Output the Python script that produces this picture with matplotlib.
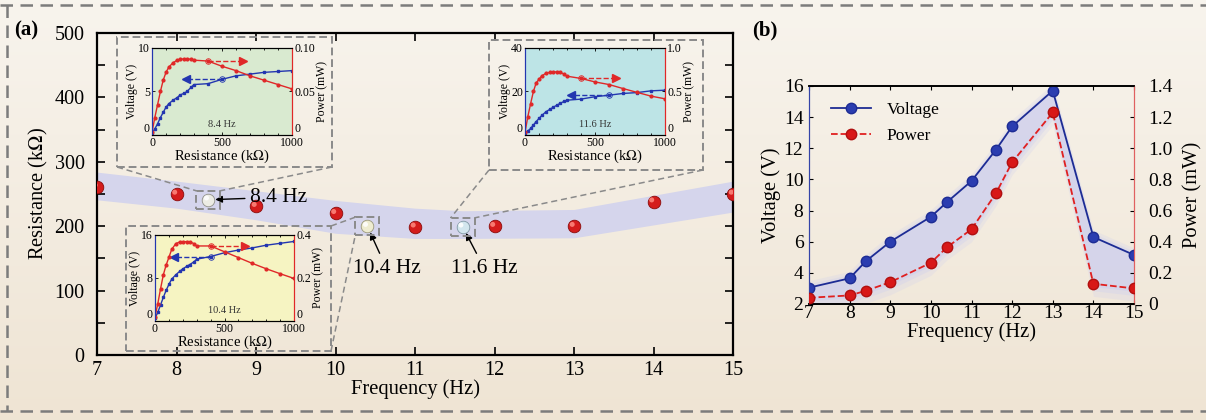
import numpy as np
import matplotlib.pyplot as plt
import matplotlib.transforms as mtransforms
from matplotlib.patches import Rectangle
from matplotlib.lines import Line2D

plt.rcParams['font.family'] = ['Liberation Serif', 'DejaVu Serif']
plt.rcParams['mathtext.fontset'] = 'stix'

W, H = 1206, 420

# ---- panel (a): optimal load resistance vs frequency
freq_a = [7, 8, 8.4, 9, 10, 10.4, 11, 11.6, 12, 13, 14, 15]
res_a = [261, 250, 241, 231, 220, 200, 199, 199, 200, 200, 238, 250]
band_f = [7, 8, 9, 10, 11, 11.6, 13, 15]
band_hi = [284, 270, 255, 240, 228, 224, 226, 270]
band_lo = [241, 228, 210, 189, 181, 181, 182, 222]
marked = {8.4: ("8.4 Hz", "#ecece4", "#909088"),
          10.4: ("10.4 Hz", "#eeecd0", "#9a987a"),
          11.6: ("11.6 Hz", "#d2e6ee", "#8098a4")}

# ---- panel (b): voltage / power vs frequency
freq_b = [7, 8, 8.4, 9, 10, 10.4, 11, 11.6, 12, 13, 14, 15]
volt_b = [3.05, 3.65, 4.75, 6.0, 7.6, 8.55, 9.9, 11.9, 13.4, 15.7, 6.3, 5.15]
power_b = [0.04, 0.055, 0.085, 0.14, 0.265, 0.365, 0.48, 0.71, 0.91, 1.23, 0.13, 0.10]

# ---- inset curves (resistance in kOhm)
r_in = [0, 20, 40, 60, 80, 100, 120, 150, 180, 200, 230, 250, 280, 300,
        400, 500, 600, 700, 800, 900, 1000]
v84 = [0.2, 0.7, 1.3, 2.0, 2.6, 3.2, 3.6, 4.0, 4.3, 4.6, 4.8, 5.0, 5.5, 5.8,
       5.9, 6.4, 6.8, 7.0, 7.2, 7.3, 7.4]
p84 = [0.003, 0.02, 0.035, 0.05, 0.063, 0.072, 0.078, 0.083, 0.086, 0.087, 0.0875,
       0.0875, 0.087, 0.086, 0.085, 0.079, 0.074, 0.068, 0.063, 0.058, 0.053]
v104 = [0.5, 1.6, 3.0, 4.4, 5.7, 6.8, 7.8, 8.6, 9.3, 9.7, 10.2, 10.5, 11.0, 11.5,
        12.0, 12.7, 13.2, 13.6, 14.1, 14.45, 14.8]
p104 = [0.02, 0.08, 0.15, 0.215, 0.26, 0.296, 0.333, 0.36, 0.368, 0.369, 0.369,
        0.368, 0.36, 0.349, 0.349, 0.322, 0.295, 0.268, 0.243, 0.22, 0.198]
v116 = [0.8, 1.8, 3.0, 4.6, 6.2, 7.6, 9.0, 10.7, 11.9, 12.7, 13.8, 14.5, 15.5, 16.0,
        16.5, 17.6, 18.3, 19.1, 19.5, 20.3, 20.6]
p116 = [0.03, 0.21, 0.36, 0.5, 0.6, 0.64, 0.68, 0.71, 0.72, 0.725, 0.725, 0.72,
        0.7, 0.676, 0.65, 0.61, 0.58, 0.534, 0.49, 0.447, 0.416]


def fr(x0, y0, x1, y1):
    return [x0 / W, 1 - y1 / H, (x1 - x0) / W, (y1 - y0) / H]


def fpt(x, y):
    return x / W, 1 - y / H


fig = plt.figure(figsize=(W / 100, H / 100), dpi=100)

# background gradient
bg = fig.add_axes([0, 0, 1, 1], zorder=-10)
t = np.linspace(0, 1, 256)[:, None, None]
top = np.array([0.972, 0.957, 0.930])
bot = np.array([0.937, 0.895, 0.830])
bg.imshow(np.repeat(top * (1 - t) + bot * t, 4, axis=1), aspect='auto', extent=[0, 1, 0, 1])
bg.axis('off')

dash = dict(color='#7c7c7c', lw=1.8, ls=(0, (5, 3)), transform=fig.transFigure)
fig.add_artist(Line2D([0, 1], [1 - 5 / H] * 2, **dash))
fig.add_artist(Line2D([0, 1], [1 - 411 / H] * 2, **dash))
fig.add_artist(Line2D([7 / W] * 2, [1 - 5 / H, 1 - 411 / H], **dash))


def balls(ax, xs, ys, face, edge, hl, s=82):
    ax.scatter(xs, ys, s=s, c=face, edgecolors=edge, linewidths=0.6, zorder=5)
    off = mtransforms.offset_copy(ax.transData, fig=fig, x=-1.3, y=1.3, units='points')
    ax.scatter(xs, ys, s=s * 0.16, c=hl, edgecolors='none', transform=off, zorder=6, alpha=0.85)


# ---------------- panel (a)
ax = fig.add_axes(fr(97, 33, 733, 355))
ax.set_facecolor('none')
ax.fill_between(band_f, band_lo, band_hi, color='#d5d5ec', lw=0, zorder=1)
red_f = [f for f in freq_a if f not in marked]
red_r = [r for f, r in zip(freq_a, res_a) if f not in marked]
balls(ax, red_f, red_r, '#d41c1c', '#8a0c0c', '#ff8a80')
for f, r in zip(freq_a, res_a):
    if f in marked:
        balls(ax, [f], [r], marked[f][1], marked[f][2], 'white')
ax.set_xlim(7, 15)
ax.set_ylim(0, 500)
ax.set_xticks(range(7, 16))
ax.set_yticks(range(0, 501, 100))
ax.set_yticks(range(50, 500, 100), minor=True)
ax.tick_params(which='both', direction='in', top=True, right=True, length=6, width=1.2,
               labelsize=14.5)
ax.tick_params(axis='x', pad=4)
ax.tick_params(axis='y', pad=9)
for s in ax.spines.values():
    s.set_linewidth(1.6)
ax.set_xlabel('Frequency (Hz)', fontsize=14.8, labelpad=0)
ax.set_ylabel('Resistance (k$\\Omega$)', fontsize=14.8, labelpad=3)

ann = {8.4: ((8.93, 245), 'left'), 10.4: ((10.64, 135), 'center'), 11.6: ((11.87, 135), 'center')}
for f, r in zip(freq_a, res_a):
    if f in marked:
        xyt, ha = ann[f]
        ax.annotate(marked[f][0], xy=(f, r), xytext=xyt, ha=ha, va='center', fontsize=15.5,
                    arrowprops=dict(arrowstyle='-|>', color='black', lw=1.0,
                                    mutation_scale=10, shrinkA=2, shrinkB=5), zorder=7)

# ---------------- panel (b)
axb = fig.add_axes(fr(809, 86, 1134, 304))
axb.set_facecolor('none')
vb = np.array(volt_b)
pb = 2 + 10 * np.array(power_b)
for k, a in zip([0.9, 0.5, 0.2], [0.25, 0.35, 0.6]):
    axb.fill_between(freq_b, vb + 0.5 * k, np.maximum(pb - 0.9 * k, 2.0), color='#cfd0ee',
                     alpha=a, lw=0)
lv, = axb.plot(freq_b, volt_b, '-o', color='#1d2c94', mfc='#2b3db0', mec='#1d2c94',
               ms=7.5, lw=1.3, zorder=4)
axb.set_xlim(7, 15)
axb.set_ylim(2, 16)
axb.set_xticks(range(7, 16))
axb.set_yticks(range(2, 17, 2))
axp = axb.twinx()
lp, = axp.plot(freq_b, power_b, '--o', color='#e02020', mfc='#d81818', mec='#b01010',
               ms=7.5, lw=1.3, zorder=4)
axp.set_ylim(0, 1.4)
axp.set_yticks(np.arange(0, 1.41, 0.2))
axp.set_yticklabels(['0'] + [f'{v:.1f}' for v in np.arange(0.2, 1.41, 0.2)])
axb.tick_params(direction='in', labelsize=14, length=3, top=True)
axb.tick_params(axis='x', pad=1)
axb.tick_params(axis='y', pad=4)
axp.tick_params(direction='in', labelsize=14, length=3, pad=10)
for a in (axb, axp):
    a.spines['left'].set_color('#3444a8')
    a.spines['right'].set_color('#e06060')
    a.spines['left'].set_linewidth(0.8)
    a.spines['right'].set_linewidth(0.8)
    a.spines['top'].set_linewidth(1.2)
    a.spines['bottom'].set_linewidth(1.2)
axb.set_xlabel('Frequency (Hz)', fontsize=14.8, labelpad=0)
axb.set_ylabel('Voltage (V)', fontsize=14.8, labelpad=2)
axp.set_ylabel('Power (mW)', fontsize=14.8, labelpad=8)
axb.legend([lv, lp], ['Voltage', 'Power'], loc='upper left', frameon=False, fontsize=12.5,
           handlelength=2.3, handletextpad=0.9, borderaxespad=0.5, labelspacing=0.6,
           bbox_to_anchor=(0.02, 1.0))

fig.text(14 / W, 1 - 30 / H, '(a)', fontsize=15, fontweight='bold', va='center')
fig.text(752 / W, 1 - 30 / H, '(b)', fontsize=15, fontweight='bold', va='center')


# ---------------- insets
def inset(rect, v, p, vmax, pmax, vticks, pticks, plabels, face, tag, red_ar, blue_ar):
    ai = fig.add_axes(rect)
    ai.set_facecolor(face)
    ai.plot(r_in, v, '-s', color='#2336b0', ms=2.0, lw=1.0)
    yb = np.interp(blue_ar[0], r_in, v)
    ai.plot(blue_ar, [yb, yb], '--', color='#2336b0', lw=1.0)
    ai.plot([blue_ar[0]], [yb], 'o', mfc='none', mec='#2336b0', ms=4, mew=0.6)
    ai.plot([blue_ar[1]], [yb], '<', color='#2336b0', ms=6)
    ai.set_xlim(0, 1000)
    ai.set_ylim(0, vmax)
    ai.set_xticks([0, 500, 1000])
    ai.set_xticks(range(100, 1000, 100), minor=True)
    ai.set_yticks(vticks)
    ai2 = ai.twinx()
    ai2.plot(r_in, p, '-o', color='#e02828', ms=2.0, lw=1.0)
    yr = np.interp(red_ar[0], r_in, p)
    ai2.plot(red_ar, [yr, yr], '--', color='#e02828', lw=1.0)
    ai2.plot([red_ar[0]], [yr], 'o', mfc='none', mec='#e02828', ms=4, mew=0.6)
    ai2.plot([red_ar[1]], [yr], '>', color='#e02828', ms=6)
    ai2.set_ylim(0, pmax)
    ai2.set_yticks(pticks)
    ai2.set_yticklabels(plabels)
    for a in (ai, ai2):
        a.tick_params(which='both', direction='in', labelsize=8.5, length=2.5, pad=1.5,
                      top=True, width=0.6)
        a.tick_params(which='minor', length=1.5)
        a.spines['left'].set_color('#2336b0')
        a.spines['right'].set_color('#e02828')
        for s in a.spines.values():
            s.set_linewidth(0.8)
    ai2.get_yticklabels()[0].set_va('bottom')
    ai.get_yticklabels()[0].set_va('bottom')
    ai.set_xlabel('Resistance (k$\\Omega$)', fontsize=10.5, labelpad=-1)
    ai.set_ylabel('Voltage (V)', fontsize=8.5, labelpad=0)
    ai2.set_ylabel('Power (mW)', fontsize=8.5, labelpad=1)
    ai.text(0.5, 0.09, tag, transform=ai.transAxes, ha='center', fontsize=7.5, color='#333333')


inset(fr(152, 48, 292, 135), v84, p84, 10, 0.10, [0, 5, 10], [0, 0.05, 0.10],
      ['0', '0.05', '0.10'], '#d9ead0', '8.4 Hz', (400, 650), (500, 240))
inset(fr(155, 235, 294, 321), v104, p104, 16, 0.4, [0, 8, 16], [0, 0.2, 0.4],
      ['0', '0.2', '0.4'], '#f6f4c2', '10.4 Hz', (400, 650), (400, 140))
inset(fr(525, 48, 665, 135), v116, p116, 40, 1.0, [0, 20, 40], [0, 0.5, 1.0],
      ['0', '0.5', '1.0'], '#bde4e6', '11.6 Hz', (400, 650), (600, 330))

# dashed zoom boxes and connectors
box_style = dict(fill=False, ec='#8a8a8a', lw=1.4, ls=(0, (4, 2)), transform=fig.transFigure)
line_style = dict(color='#8a8a8a', lw=1.1, ls=(0, (4, 2.5)), transform=fig.transFigure)
inset_boxes = {8.4: (117, 37, 332, 167), 10.4: (126, 226, 331, 351), 11.6: (489, 40, 703, 170)}
for f, r in zip(freq_a, res_a):
    if f not in marked:
        continue
    xd, yd = ax.transData.transform((f, r))
    cx, cy = xd, H - yd
    x0, y0, x1, y1 = cx - 12, cy - 9, cx + 12, cy + 9
    fig.add_artist(Rectangle(fpt(x0, y1), 24 / W, 18 / H, **box_style))
    bx0, by0, bx1, by1 = inset_boxes[f]
    fig.add_artist(Rectangle(fpt(bx0, by1), (bx1 - bx0) / W, (by1 - by0) / H, **box_style))
    if f == 10.4:
        pairs = [((bx1, by0), (x0, y0)), ((bx1, by1), (x0, y1))]
    else:
        pairs = [((bx0, by1), (x0, y0)), ((bx1, by1), (x1, y0))]
    for (ax0, ay0), (ax1, ay1) in pairs:
        p0, p1 = fpt(ax0, ay0), fpt(ax1, ay1)
        fig.add_artist(Line2D([p0[0], p1[0]], [p0[1], p1[1]], **line_style))

fig.savefig('out.png', dpi=100)
